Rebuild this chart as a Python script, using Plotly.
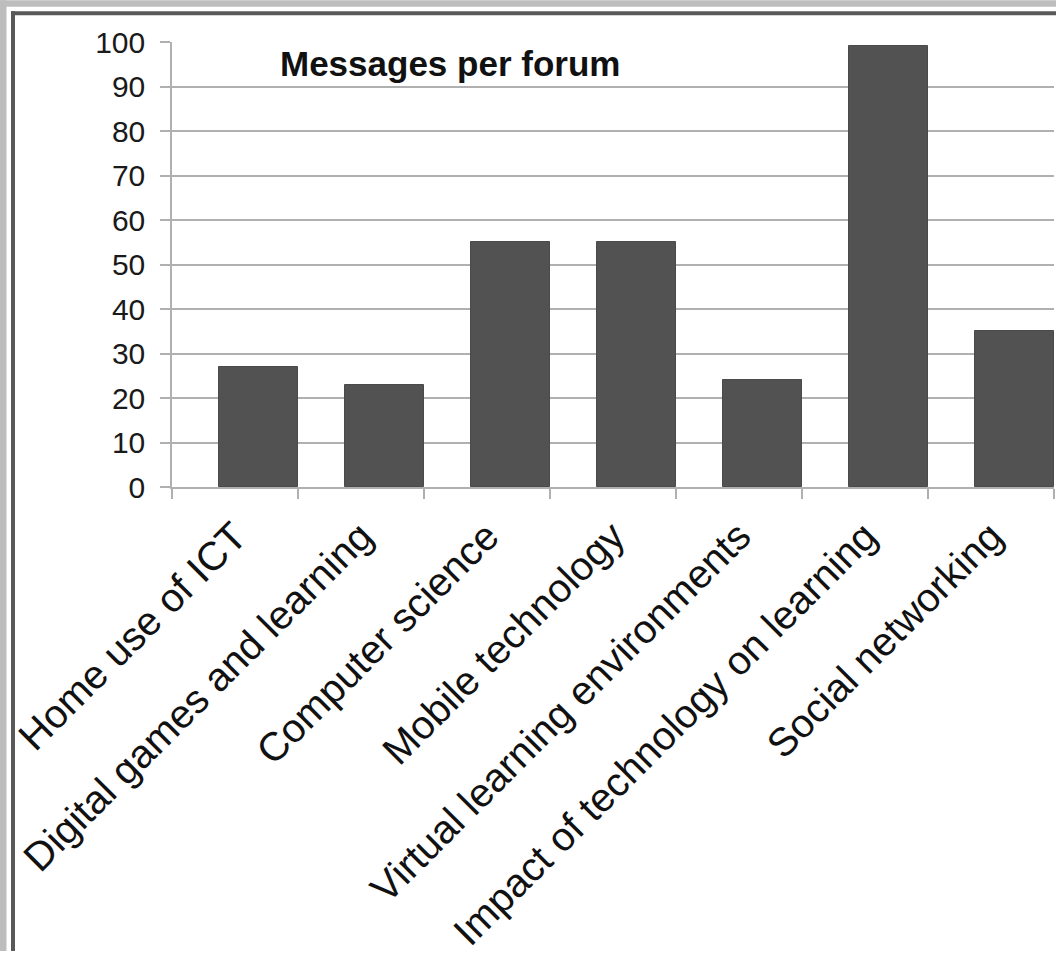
import plotly.graph_objects as go

# Forum message counts
forums = [
    "Home use of ICT",
    "Digital games and learning",
    "Computer science",
    "Mobile technology",
    "Virtual learning environments",
    "Impact of technology on learning",
    "Social networking",
]
messages = [27, 23, 55, 55, 24, 99, 35]
y_ticks = [0, 10, 20, 30, 40, 50, 60, 70, 80, 90, 100]

W, H = 1056, 955
L_PX, R_PX, T_PX, B_PX = 172, 1054, 42, 489   # plot area in pixels


def px_x(px):
    return (px - L_PX) / (R_PX - L_PX)


def px_y(py):
    return (B_PX - py) / (B_PX - T_PX)


FONT = "Liberation Sans, Arial, sans-serif"
GRID = "#b0b0b0"

fig = go.Figure(
    go.Bar(
        x=forums,
        y=messages,
        width=0.627,
        offset=-0.127,
        marker=dict(color="#525252", line=dict(color="#4a4a4a", width=1)),
        hoverinfo="x+y",
    )
)

fig.update_layout(
    width=W,
    height=H,
    margin=dict(l=L_PX, r=W - R_PX, t=T_PX, b=H - B_PX, pad=0),
    paper_bgcolor="white",
    plot_bgcolor="white",
    showlegend=False,
    bargap=0,
    font=dict(family=FONT, color="#1a1a1a"),
    xaxis=dict(
        type="category",
        range=[-0.5, 6.5],
        showline=True,
        linecolor=GRID,
        linewidth=1.5,
        ticks="outside",
        tickson="boundaries",
        ticklen=10,
        tickwidth=1.5,
        tickcolor=GRID,
        tickangle=-45,
        ticklabelstandoff=8,
        tickfont=dict(size=40, family=FONT, color="#111111"),
        showgrid=False,
    ),
    yaxis=dict(
        range=[0, 100],
        tickvals=y_ticks,
        ticktext=[str(v) for v in y_ticks],
        showgrid=True,
        gridcolor=GRID,
        gridwidth=1.5,
        showline=True,
        linecolor=GRID,
        linewidth=1.5,
        ticks="outside",
        ticklen=10,
        tickwidth=1.5,
        tickcolor=GRID,
        ticklabelstandoff=9,
        tickfont=dict(size=30, family=FONT, color="#1a1a1a"),
        zeroline=False,
    ),
    annotations=[
        dict(
            text="<b>Messages per forum</b>",
            xref="paper",
            yref="paper",
            x=px_x(450),
            y=px_y(64),
            xanchor="center",
            yanchor="middle",
            showarrow=False,
            font=dict(size=35, family=FONT, color="#111111"),
        )
    ],
    shapes=[
        # outer grey surround (top and left)
        dict(type="rect", xref="paper", yref="paper", layer="below",
             x0=px_x(0), x1=px_x(W), y0=px_y(0), y1=px_y(6.5),
             fillcolor="#bdbdbd", line=dict(width=0)),
        dict(type="rect", xref="paper", yref="paper", layer="below",
             x0=px_x(0), x1=px_x(6.5), y0=px_y(0), y1=px_y(H),
             fillcolor="#bdbdbd", line=dict(width=0)),
        # dark frame edges
        dict(type="line", xref="paper", yref="paper", layer="below",
             x0=px_x(11), x1=px_x(W), y0=px_y(13), y1=px_y(13),
             line=dict(color="#595959", width=4)),
        dict(type="line", xref="paper", yref="paper", layer="below",
             x0=px_x(13), x1=px_x(13), y0=px_y(11), y1=px_y(H),
             line=dict(color="#595959", width=4)),
    ],
)

fig.write_html("out.html")
